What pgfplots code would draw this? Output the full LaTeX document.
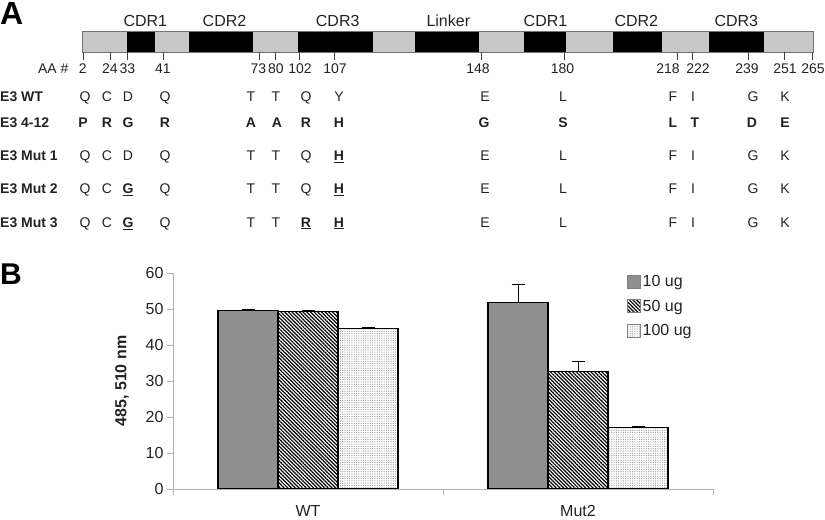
\documentclass[border=0pt]{standalone}
\usepackage{pgfplots}
\pgfplotsset{compat=1.18}
\usepackage{fontspec}
\setmainfont{Liberation Sans}
\usetikzlibrary{patterns.meta}
\definecolor{barlight}{HTML}{C8C8C8}
\definecolor{bardark}{HTML}{8F8F8F}
\definecolor{txt}{HTML}{222222}
\newcommand\fs[1]{\fontsize{#1bp}{#1bp}\selectfont}
\newcommand\ub[1]{\underline{\textbf{#1}}}
\pgfplotsset{myerr/.style={
  error bars/y dir=plus, error bars/y explicit,
  error bars/error bar style={line width=1bp, black, solid},
  error bars/error mark options={rotate=90, mark size=6.5bp, line width=1bp, black, solid}}}
\begin{document}
\begin{tikzpicture}
\useasboundingbox (0,0) rectangle (825bp,520bp);
% ---------- Panel A: domain bar (pixel-coordinate axis) ----------
\begin{axis}[at={(0,0)}, anchor=south west, width=825bp, height=520bp, scale only axis,
  xmin=0, xmax=825, ymin=0, ymax=520, y dir=reverse, hide axis, clip=false]
\addplot[fill=barlight, draw=none] coordinates {(82,31)(813,31)(813,52)(82,52)} -- cycle;
\addplot[fill=black, draw=none] coordinates {(127,31)(155,31)(155,52)(127,52)} -- cycle;
\addplot[fill=black, draw=none] coordinates {(189,31)(253,31)(253,52)(189,52)} -- cycle;
\addplot[fill=black, draw=none] coordinates {(298,31)(373,31)(373,52)(298,52)} -- cycle;
\addplot[fill=black, draw=none] coordinates {(415,31)(479,31)(479,52)(415,52)} -- cycle;
\addplot[fill=black, draw=none] coordinates {(524,31)(566,31)(566,52)(524,52)} -- cycle;
\addplot[fill=black, draw=none] coordinates {(613,31)(662,31)(662,52)(613,52)} -- cycle;
\addplot[fill=black, draw=none] coordinates {(709,31)(764,31)(764,52)(709,52)} -- cycle;
\addplot[draw=gray!90!black, line width=0.8bp] coordinates {(82,31)(813,31)(813,52)(82,52)} -- cycle;
\addplot[draw=black!75, line width=0.8bp, unbounded coords=jump] coordinates {
 (83,52)(83,60)(83,nan) (110,52)(110,60)(110,nan) (127.3,52)(127.3,60)(127.3,nan)
 (163,52)(163,60)(163,nan) (259,52)(259,60)(259,nan) (275.3,52)(275.3,60)(275.3,nan)
 (299,52)(299,60)(299,nan) (334.3,52)(334.3,60)(334.3,nan) (481.7,52)(481.7,60)(481.7,nan)
 (564.3,52)(564.3,60)(564.3,nan) (677.7,52)(677.7,60)(677.7,nan) (692,52)(692,60)(692,nan)
 (748.7,52)(748.7,60)(748.7,nan) (784.7,52)(784.7,60)(784.7,nan) (812.7,52)(812.7,60)};
\end{axis}
% ---------- Panel B: bar chart ----------
\begin{axis}[at={(173bp,31bp)}, anchor=south west, width=540bp, height=216bp, scale only axis,
  xmin=-0.5, xmax=1.5, ymin=0, ymax=60,
  axis x line*=bottom, axis y line*=left,
  axis line style={draw=gray!60, line width=0.8bp},
  ytick={0,10,...,60}, xtick={0,1}, xticklabels={WT,Mut2},
  minor xtick={-0.5,0.5,1.5},
  tick align=outside, major tick length=6bp, minor tick length=6bp,
  tick style={draw=gray!60, line width=0.8bp},
  major x tick style={draw=none},
  ticklabel style={font=\fs{16}, text=txt},
  xticklabel style={yshift=-7bp},
  /pgf/number format/assume math mode=true,
  ylabel={485, 510 nm},
  ylabel style={at={(axis description cs:-0.0944,0.5)}, anchor=center, font=\fs{16}\bfseries, text=txt},
  ybar, bar width=60bp,
  legend style={at={(axis description cs:0.8407,1.0)}, anchor=north west, draw=none, fill=none,
    font=\fs{16}, row sep=8bp, inner sep=0pt, nodes={inner sep=2bp, text=txt}},
  legend cell align=left,
  legend image code/.code={\draw[#1, draw=gray, line width=0.5bp] (0bp,-6.5bp) rectangle (13bp,6.5bp);},
]
\addplot[bar shift=-60bp, fill=bardark, draw=black, line width=1.2bp, myerr]
  coordinates {(0,49.5) +- (0,0.3) (1,51.8) +- (0,5.1)};
\addlegendentry{10 ug}
\addplot[bar shift=0bp, draw=black, line width=1.2bp,
  pattern={Lines[angle=-45,distance=2.6bp,line width=1.2bp]}, pattern color=black, myerr]
  coordinates {(0,49.3) +- (0,0.4) (1,32.6) +- (0,2.8)};
\addlegendentry{50 ug}
\addplot[bar shift=60bp, draw=black, line width=1.2bp,
  pattern={Dots[distance=2.3bp,radius=0.6bp]}, pattern color=gray!85, myerr]
  coordinates {(0,44.6) +- (0,0.2) (1,17.0) +- (0,0.4)};
\addlegendentry{100 ug}
\end{axis}
% ---------- Text (pixel coordinates, y downward) ----------
\begin{scope}[x=1bp, y=-1bp, shift={(0,520bp)}]
\node[anchor=base west, inner sep=0pt, font=\fs{32}\bfseries] at (0,25) {A};
\node[anchor=base west, inner sep=0pt, font=\fs{30}\bfseries] at (0,285) {B};
\foreach \x/\t in {145.3/CDR1, 224.5/CDR2, 337.7/CDR3, 448.3/Linker, 545.5/CDR1, 636.3/CDR2, 736.3/CDR3}
  \node[anchor=base, inner sep=0pt, font=\fs{16}, text=txt] at (\x,26.7) {\t};
\node[anchor=base, inner sep=0pt, font=\fs{14}, text=txt] at (53.3,73.3) {AA \#};
\foreach \x/\t in {82.7/2, 110/24, 127.5/33, 163/41, 258.5/73, 276/80, 300/102, 335/107,
  478/148, 562.5/180, 668/218, 698/222, 747/239, 785/251, 813/265}
  \node[anchor=base, inner sep=0pt, font=\fs{14}, text=txt] at (\x,73.3) {\t};
% row labels
\foreach \y/\t in {101.5/E3 WT, 127.3/E3 4-12, 160.7/E3 Mut 1, 194/E3 Mut 2, 227.3/E3 Mut 3}
  \node[anchor=base west, inner sep=0pt, font=\fs{14}\bfseries, text=txt] at (0,\y) {\t};
% sequences
\foreach \x/\t in {85/Q, 107/C, 128/D, 165/Q, 251/T, 276/T, 306/Q, 339/Y, 485/E, 563/L, 673/F, 693/I, 753/G, 785/K}
  \node[anchor=base, inner sep=0pt, font=\fs{14}, text=txt] at (\x,101.5) {\t};
\foreach \x/\t in {83/P, 107/R, 128/G, 165/R, 251/A, 277/A, 306/R, 339/H, 484/G, 563/S, 673/L, 695/T, 752/D, 785/E}
  \node[anchor=base, inner sep=0pt, font=\fs{14}\bfseries, text=txt] at (\x,127.3) {\t};
\foreach \x/\t in {85/Q, 107/C, 128/D, 165/Q, 251/T, 276/T, 306/Q, 339/{\ub{H}}, 485/E, 563/L, 673/F, 693/I, 753/G, 785/K}
  \node[anchor=base, inner sep=0pt, font=\fs{14}, text=txt] at (\x,160.7) {\t};
\foreach \x/\t in {85/Q, 107/C, 128/{\ub{G}}, 165/Q, 251/T, 276/T, 306/Q, 339/{\ub{H}}, 485/E, 563/L, 673/F, 693/I, 753/G, 785/K}
  \node[anchor=base, inner sep=0pt, font=\fs{14}, text=txt] at (\x,194) {\t};
\foreach \x/\t in {85/Q, 107/C, 128/{\ub{G}}, 165/Q, 251/T, 276/T, 306/{\ub{R}}, 339/{\ub{H}}, 485/E, 563/L, 673/F, 693/I, 753/G, 785/K}
  \node[anchor=base, inner sep=0pt, font=\fs{14}, text=txt] at (\x,227.3) {\t};
\end{scope}
\end{tikzpicture}
\end{document}
